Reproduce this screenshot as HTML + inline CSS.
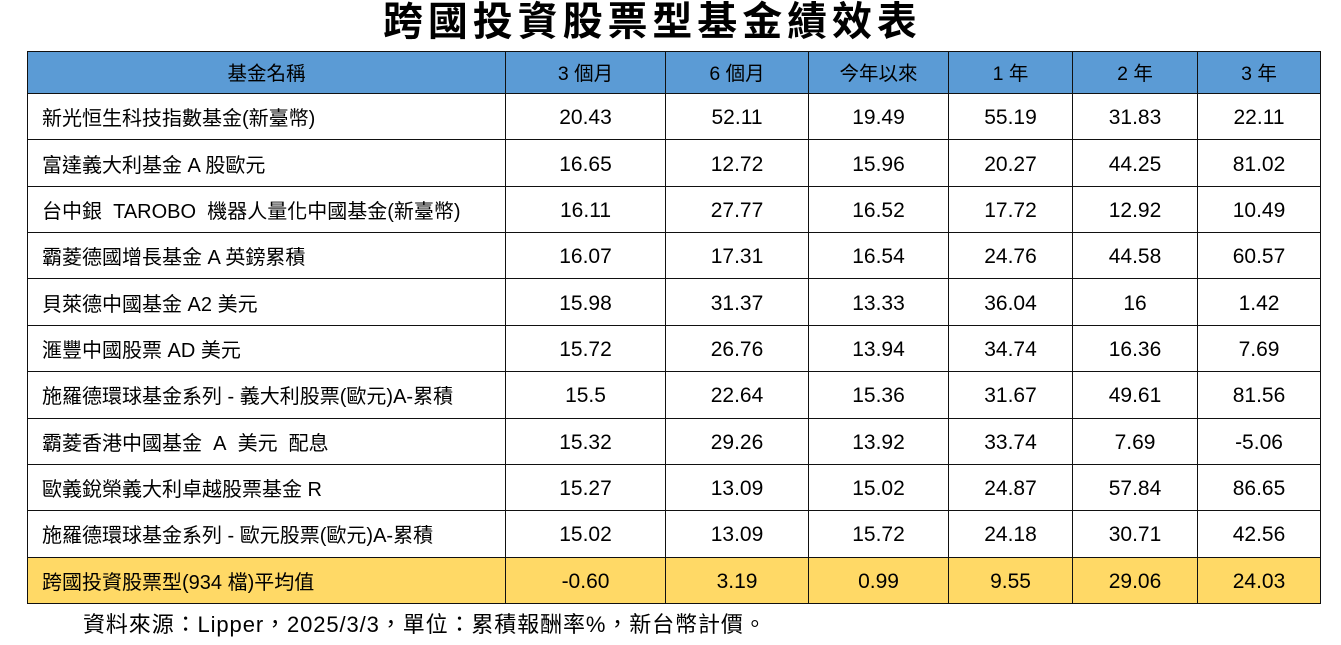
<!DOCTYPE html>
<html>
<head>
<meta charset="utf-8">
<style>
  html, body { margin:0; padding:0; background:#fff; }
  body { width:1341px; height:645px; position:relative; overflow:hidden;
         font-family:"Liberation Sans","Noto Sans CJK TC",sans-serif; color:#000; }
  .title { position:absolute; left:383px; top:0px; height:44px; line-height:44px;
           font-size:40px; font-weight:bold; letter-spacing:4.9px; white-space:nowrap;
           font-family:"Liberation Sans","Noto Sans CJK TC",sans-serif; }
  .grid { position:absolute; left:27px; top:51px;
          display:grid;
          grid-template-columns:478px 160px 143px 140px 124px 125px 123px;
          grid-template-rows:42px repeat(11, 46.36px);
          border-left:1.5px solid #111; border-top:1.5px solid #111; }
  .grid > div { box-sizing:border-box; border-right:1.5px solid #111; border-bottom:1.5px solid #111;
                display:flex; align-items:center; justify-content:center; white-space:nowrap; }
  .h { background:#5B9BD5; font-size:19.5px; padding-bottom:3px; }
  .n { justify-content:flex-start !important; padding-left:14px; font-size:20px; }
  .v { font-size:21px; padding-top:3px; }
  .y { background:#FFD966; }
  .foot { position:absolute; left:83px; top:611px; font-size:22px; line-height:28px; white-space:nowrap; letter-spacing:0.9px; }
</style>
</head>
<body>
<div class="title">跨國投資股票型基金績效表</div>
<div class="grid">
  <div class="h">基金名稱</div><div class="h">3 個月</div><div class="h">6 個月</div><div class="h">今年以來</div><div class="h">1 年</div><div class="h">2 年</div><div class="h">3 年</div>

  <div class="n">新光恒生科技指數基金(新臺幣)</div><div class="v">20.43</div><div class="v">52.11</div><div class="v">19.49</div><div class="v">55.19</div><div class="v">31.83</div><div class="v">22.11</div>

  <div class="n">富達義大利基金 A 股歐元</div><div class="v">16.65</div><div class="v">12.72</div><div class="v">15.96</div><div class="v">20.27</div><div class="v">44.25</div><div class="v">81.02</div>

  <div class="n">台中銀&nbsp; TAROBO&nbsp; 機器人量化中國基金(新臺幣)</div><div class="v">16.11</div><div class="v">27.77</div><div class="v">16.52</div><div class="v">17.72</div><div class="v">12.92</div><div class="v">10.49</div>

  <div class="n">霸菱德國增長基金 A 英鎊累積</div><div class="v">16.07</div><div class="v">17.31</div><div class="v">16.54</div><div class="v">24.76</div><div class="v">44.58</div><div class="v">60.57</div>

  <div class="n">貝萊德中國基金 A2 美元</div><div class="v">15.98</div><div class="v">31.37</div><div class="v">13.33</div><div class="v">36.04</div><div class="v">16</div><div class="v">1.42</div>

  <div class="n">滙豐中國股票 AD 美元</div><div class="v">15.72</div><div class="v">26.76</div><div class="v">13.94</div><div class="v">34.74</div><div class="v">16.36</div><div class="v">7.69</div>

  <div class="n">施羅德環球基金系列 - 義大利股票(歐元)A-累積</div><div class="v">15.5</div><div class="v">22.64</div><div class="v">15.36</div><div class="v">31.67</div><div class="v">49.61</div><div class="v">81.56</div>

  <div class="n">霸菱香港中國基金&nbsp; A&nbsp; 美元&nbsp; 配息</div><div class="v">15.32</div><div class="v">29.26</div><div class="v">13.92</div><div class="v">33.74</div><div class="v">7.69</div><div class="v">-5.06</div>

  <div class="n">歐義銳榮義大利卓越股票基金 R</div><div class="v">15.27</div><div class="v">13.09</div><div class="v">15.02</div><div class="v">24.87</div><div class="v">57.84</div><div class="v">86.65</div>

  <div class="n">施羅德環球基金系列 - 歐元股票(歐元)A-累積</div><div class="v">15.02</div><div class="v">13.09</div><div class="v">15.72</div><div class="v">24.18</div><div class="v">30.71</div><div class="v">42.56</div>

  <div class="n y">跨國投資股票型(934 檔)平均值</div><div class="v y">-0.60</div><div class="v y">3.19</div><div class="v y">0.99</div><div class="v y">9.55</div><div class="v y">29.06</div><div class="v y">24.03</div>
</div>
<div class="foot">資料來源：Lipper，2025/3/3，單位：累積報酬率%，新台幣計價。</div>
</body>
</html>
